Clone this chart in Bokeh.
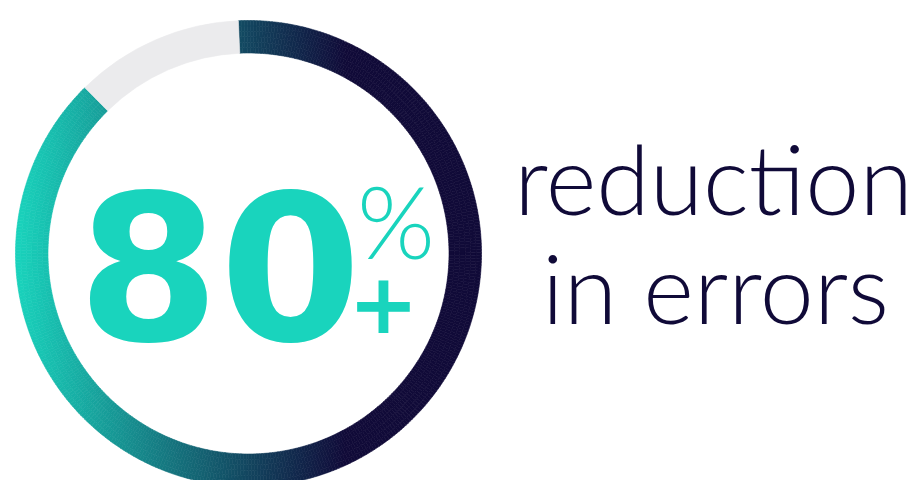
import numpy as np
from bokeh.plotting import figure
from bokeh.models import Range1d, ColumnDataSource
from bokeh.core.properties import value
from bokeh.embed import file_html
from bokeh.resources import INLINE

# ---- data ----
ring_labels = ["achieved", "remaining"]
ring_shares = [88.3, 11.7]          # share of the ring (percent of the circle)
headline_number = "80"
headline_percent = "%"
headline_plus = "+"
caption_lines = ["reduction", "in errors"]

# ---- styles ----
TEAL = (25, 212, 189)
NAVY = (16, 10, 56)
GRAY = "#ebebed"
TEXT_NAVY = "#100a38"
TEAL_HEX = "#19d4bd"

W, H = 918, 480
p = figure(width=W, height=H, x_range=Range1d(0, W), y_range=Range1d(0, H),
           output_backend="svg", toolbar_location=None, min_border=0)
p.axis.visible = False
p.grid.visible = False
p.outline_line_color = None
p.background_fill_color = "white"
p.border_fill_color = "white"

cx, cy = 248, 227
r_in, r_out = 200.5, 233
start = np.deg2rad(92.5)
total = sum(ring_shares)
filled_span = 2 * np.pi * ring_shares[0] / total
gap_span = 2 * np.pi * ring_shares[1] / total

gx0, gx1 = 15, 345
def grad_color(x):
    t = min(max((x - gx0) / (gx1 - gx0), 0.0), 1.0)
    c = [round(a + (b - a) * t) for a, b in zip(TEAL, NAVY)]
    return "#%02x%02x%02x" % tuple(c)

n_ang, n_rad = 420, 6
a_edges = np.linspace(start - filled_span, start, n_ang + 1)
r_edges = np.linspace(r_in, r_out, n_rad + 1)
seg = dict(ir=[], orr=[], sa=[], ea=[], color=[])
for i in range(n_ang):
    a0, a1 = a_edges[i], a_edges[i + 1]
    am = 0.5 * (a0 + a1)
    for j in range(n_rad):
        ri, ro = r_edges[j], r_edges[j + 1]
        rm = 0.5 * (ri + ro)
        seg["ir"].append(ri)
        seg["orr"].append(ro)
        seg["sa"].append(a0)
        seg["ea"].append(a1)
        seg["color"].append(grad_color(cx + rm * np.cos(am)))
src = ColumnDataSource(seg)
p.annular_wedge(x=cx, y=cy, inner_radius="ir", outer_radius="orr",
                start_angle="sa", end_angle="ea", fill_color="color",
                line_color="color", line_width=0.6, source=src)

p.annular_wedge(x=cx, y=cy, inner_radius=r_in, outer_radius=r_out,
                start_angle=start, end_angle=start + gap_span,
                fill_color=GRAY, line_color=GRAY, line_width=0.6)

# headline (anchor offsets compensate the renderer's baseline placement)
p.text(x=[219], y=[215], text=[headline_number], text_font=value("DejaVu Sans"),
       text_font_style="bold", text_font_size=value("204px"), text_color=TEAL_HEX,
       text_align="center", text_baseline="alphabetic")
p.text(x=[395.5], y=[261], text=[headline_percent], text_font=value("Lato Light"),
       text_font_size=value("100px"), text_color=TEAL_HEX,
       text_align="center", text_baseline="alphabetic")
p.text(x=[383], y=[179], text=[headline_plus], text_font=value("DejaVu Sans"),
       text_font_style="bold", text_font_size=value("84px"), text_color=TEAL_HEX,
       text_align="center", text_baseline="alphabetic")

p.text(x=[713, 715], y=[303, 194], text=caption_lines, text_font=value("Lato Light"),
       text_font_size=value("97px"), text_color=TEXT_NAVY,
       text_align="center", text_baseline="alphabetic")

open("out.html", "w").write(file_html(p, INLINE))
